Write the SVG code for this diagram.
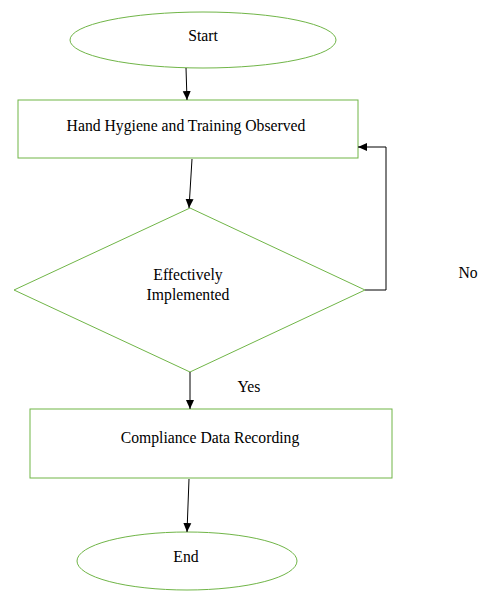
<svg xmlns="http://www.w3.org/2000/svg" width="483" height="601" viewBox="0 0 483 601">
<style>
.shape{fill:#fff;stroke:#70b547;stroke-width:1}
.t{font-family:'Liberation Serif','Times New Roman',serif;font-size:15.7px;fill:#000;text-anchor:middle}
.c{fill:none;stroke:#000;stroke-width:1}
</style>
<defs>
<marker id="ah" markerWidth="10" markerHeight="10" refX="9" refY="5" orient="auto" markerUnits="userSpaceOnUse">
<path d="M0,1 L9,5 L0,9 Z" fill="#000"/>
</marker>
</defs>
<rect width="483" height="601" fill="#fff"/>
<g id="start">
<ellipse class="shape" cx="203" cy="40" rx="133" ry="28"/>
<text class="t" x="203" y="41">Start</text>
</g>
<g id="observe">
<rect class="shape" x="18" y="100" width="340" height="58"/>
<text class="t" x="186" y="131">Hand Hygiene and Training Observed</text>
</g>
<g id="decision">
<polygon class="shape" points="190,208 365,290 190,372 14,290"/>
<text class="t" x="188" y="280">Effectively</text>
<text class="t" x="188" y="300">Implemented</text>
</g>
<g id="record">
<rect class="shape" x="30" y="409" width="362" height="69"/>
<text class="t" x="210" y="443">Compliance Data Recording</text>
</g>
<g id="end">
<ellipse class="shape" cx="187" cy="561" rx="110" ry="29"/>
<text class="t" x="186" y="562">End</text>
</g>
<g id="connectors">
<line class="c" x1="186" y1="68" x2="187" y2="100" marker-end="url(#ah)"/>
<line class="c" x1="192" y1="159" x2="189" y2="208" marker-end="url(#ah)"/>
<polyline class="c" points="365,290 386,290 386,147 358,147" marker-end="url(#ah)"/>
<line class="c" x1="190" y1="372" x2="190" y2="409" marker-end="url(#ah)"/>
<line class="c" x1="189" y1="479" x2="187" y2="532" marker-end="url(#ah)"/>
<text class="t" x="468" y="278">No</text>
<text class="t" x="249" y="392">Yes</text>
</g>
</svg>
